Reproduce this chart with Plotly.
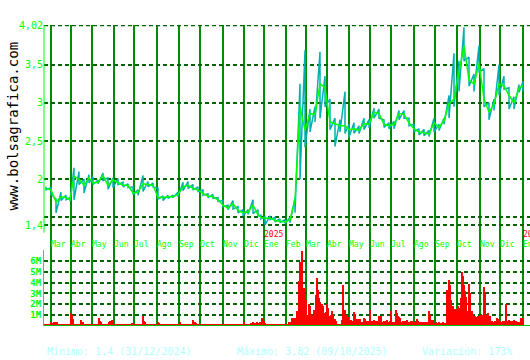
import pandas as pd
import plotly.graph_objects as go

# ---------------- data ----------------
HOLIDAYS = ["2024-03-29", "2024-04-01", "2024-05-01", "2024-12-25", "2024-12-26",
            "2025-01-01", "2025-05-01", "2026-01-01"]
FIRST_DAY = "2024-02-22"
LAST_DAY = "2026-01-02"
X_START = "2024-02-21"
X_END = "2026-01-13"

MONTH_NAMES = ["Ene", "Feb", "Mar", "Abr", "May", "Jun", "Jul", "Ago", "Sep", "Oct", "Nov", "Dic"]

# weekly close / high / low (one value per trading week)
week_close = [
    1.88, 1.86, 1.70, 1.77, 1.76, 1.73, 2.04, 2.00, 1.92, 2.02,
    1.95, 1.96, 2.05, 1.92, 1.99, 1.96, 1.92, 1.92, 1.82, 1.83,
    1.94, 1.93, 1.92, 1.76, 1.76, 1.77, 1.77, 1.80, 1.90, 1.92,
    1.88, 1.86, 1.81, 1.78, 1.77, 1.73, 1.66, 1.62, 1.68, 1.59,
    1.56, 1.57, 1.66, 1.53, 1.50, 1.49, 1.49, 1.46, 1.45, 1.44,
    1.47, 1.73, 2.95, 2.64, 2.86, 2.85, 3.25, 3.20, 2.75, 2.72,
    2.70, 2.70, 2.65, 2.66, 2.64, 2.73, 2.72, 2.88, 2.86, 2.72,
    2.70, 2.72, 2.86, 2.85, 2.74, 2.66, 2.62, 2.61, 2.59, 2.74,
    2.68, 2.77, 2.99, 3.05, 3.40, 3.75, 3.30, 3.25, 3.52, 3.05,
    2.88, 2.98, 3.25, 3.22, 3.10, 3.00, 3.19, 3.23,
]
week_high = [
    1.90, 1.89, 1.74, 1.83, 1.79, 1.76, 2.15, 2.10, 2.00, 2.06,
    2.03, 1.99, 2.08, 2.02, 2.02, 2.01, 1.96, 1.94, 1.90, 1.86,
    2.05, 1.97, 1.95, 1.88, 1.78, 1.79, 1.79, 1.83, 1.96, 1.97,
    1.93, 1.90, 1.86, 1.81, 1.80, 1.76, 1.72, 1.66, 1.72, 1.64,
    1.60, 1.60, 1.73, 1.60, 1.53, 1.51, 1.52, 1.50, 1.48, 1.47,
    1.50, 1.76, 3.25, 3.69, 2.92, 2.95, 3.67, 3.35, 3.05, 2.80,
    2.78, 3.15, 2.72, 2.74, 2.70, 2.80, 2.78, 2.93, 2.92, 2.78,
    2.74, 2.76, 2.90, 2.90, 2.80, 2.72, 2.66, 2.65, 2.64, 2.80,
    2.72, 2.80, 3.10, 3.65, 3.55, 3.99, 3.60, 3.38, 3.75, 3.45,
    3.00, 3.05, 3.50, 3.35, 3.20, 3.08, 3.24, 3.28,
]
week_low = [
    1.86, 1.80, 1.56, 1.72, 1.73, 1.71, 1.73, 1.93, 1.82, 1.95,
    1.93, 1.94, 1.98, 1.87, 1.89, 1.93, 1.90, 1.89, 1.80, 1.79,
    1.84, 1.90, 1.90, 1.74, 1.72, 1.75, 1.76, 1.77, 1.85, 1.88,
    1.86, 1.84, 1.79, 1.76, 1.75, 1.71, 1.64, 1.60, 1.61, 1.56,
    1.52, 1.54, 1.55, 1.52, 1.48, 1.40, 1.47, 1.44, 1.43, 1.42,
    1.43, 1.56, 2.00, 2.42, 2.62, 2.75, 2.80, 2.95, 2.65, 2.43,
    2.62, 2.60, 2.55, 2.60, 2.60, 2.65, 2.67, 2.80, 2.80, 2.68,
    2.66, 2.66, 2.78, 2.80, 2.70, 2.62, 2.58, 2.57, 2.56, 2.62,
    2.64, 2.72, 2.80, 2.95, 3.15, 3.55, 3.22, 3.15, 3.40, 2.95,
    2.78, 2.90, 3.10, 3.18, 2.92, 2.92, 3.14, 3.15,
]
# daily volume, millions of shares (one value per trading day)
daily_volume_m = (
    [0.15, 0.12, 0.15, 0.18, 0.15, 0.12, 0.37, 0.30, 0.15, 0.37, 0.37, 0.25, 0.37, 0.20,
     0.20, 0.20, 0.15]
    + [0.15, 0.12, 0.15, 0.18, 0.15, 0.12, 0.15, 0.18, 0.15, 1.22, 1.00, 0.60,
       0.18, 0.15, 0.18, 0.12, 0.18, 0.15, 0.18, 0.52, 0.40, 0.37]
    + [0.15, 0.12, 0.15, 0.18, 0.15, 0.12, 0.15, 0.15, 0.18, 0.12, 0.15, 0.15, 0.18, 0.12, 0.15,
       0.73, 0.50, 0.37, 0.18, 0.15, 0.18, 0.12, 0.18, 0.15, 0.18,
       0.37, 0.45, 0.30, 0.55, 0.40]
    + [0.15, 0.12, 0.15, 0.18, 0.15, 0.12, 0.15, 0.15, 0.18, 0.12, 0.15, 0.15, 0.18, 0.12,
       0.15, 0.12, 0.15, 0.18, 0.30, 0.25,
       0.15, 0.12, 0.15, 0.18, 0.15, 0.12, 0.15, 0.18, 0.15, 0.92, 0.50, 0.37,
       0.15, 0.12, 0.15, 0.18, 0.15, 0.12, 0.15, 0.15, 0.18, 0.12, 0.15, 0.15, 0.37, 0.30]
    + [0.15, 0.12, 0.15, 0.18, 0.15, 0.12, 0.15, 0.15, 0.18, 0.12, 0.15, 0.15, 0.18, 0.12,
       0.15, 0.12, 0.15, 0.18, 0.15, 0.12, 0.37,
       0.18, 0.15, 0.18, 0.12, 0.18, 0.15, 0.18, 0.18, 0.15, 0.18, 0.12, 0.18,
       0.55, 0.37, 0.40, 0.30]
    + [0.15, 0.12, 0.15, 0.18, 0.15, 0.12, 0.15, 0.15, 0.18, 0.12,
       0.15, 0.15, 0.18, 0.12, 0.15, 0.12, 0.15, 0.18, 0.15, 0.12,
       0.15, 0.18, 0.15, 0.12, 0.15, 0.15, 0.18, 0.12, 0.15, 0.15,
       0.18, 0.12, 0.15, 0.12, 0.15, 0.18, 0.15, 0.12, 0.15, 0.18,
       0.15, 0.12, 0.15, 0.15, 0.18, 0.12, 0.15, 0.37,
       0.15, 0.12, 0.15, 0.18, 0.15, 0.12,
       0.30, 0.25, 0.37, 0.20, 0.30, 0.25, 0.37, 0.30, 0.20, 0.37, 0.30,
       0.73, 0.60, 0.46, 0.30]
    + [0.15, 0.12, 0.15, 0.18, 0.15, 0.12, 0.15, 0.15, 0.18, 0.12, 0.15, 0.15, 0.18, 0.12,
       0.15, 0.12, 0.15, 0.18, 0.18, 0.15, 0.18, 0.20, 0.18, 0.37, 0.30, 0.37,
       0.73, 0.60, 0.70, 0.60, 0.70, 1.35, 1.20]
    + [4.10, 5.90, 5.90, 6.95, 3.50, 3.50, 1.80, 2.40, 0.90, 1.00, 2.00, 1.80,
       0.80, 1.00, 0.90, 1.50, 1.30, 2.90, 4.40, 3.30, 2.60, 2.20,
       1.50, 2.00, 1.80, 1.20, 1.10, 1.30, 2.00, 1.70, 0.90, 0.80, 1.00, 1.35, 1.10,
       0.50, 0.60, 0.45, 0.18, 0.20, 0.18, 0.15, 0.18, 0.58, 3.80, 1.50, 1.50]
    + [0.90, 1.00, 0.80, 0.50, 0.45, 0.55, 0.50, 0.45, 1.25, 0.90,
       0.60, 0.50, 0.65, 0.55, 0.60, 0.37, 0.35, 0.37, 0.73, 0.60,
       0.50, 0.40, 0.50, 0.45, 1.50, 0.45, 0.50, 0.40, 0.58, 0.45, 0.50, 0.40, 0.45,
       0.90, 0.80, 0.90, 0.40, 0.35, 0.50, 0.30, 0.45, 0.58, 0.40, 0.35, 0.45,
       1.35, 0.37, 0.30, 0.37, 0.35, 1.50, 1.20, 0.90, 0.80, 0.70]
    + [0.40, 0.35, 0.50, 0.30, 0.45, 0.40, 0.58, 0.35, 0.40, 0.30, 0.45, 0.50, 0.35, 0.40,
       0.30, 0.45, 0.67, 0.50, 0.35, 0.30, 0.40, 0.35, 0.30, 0.40, 0.35, 0.30, 0.40, 0.35,
       1.35, 1.00, 0.58, 0.50, 0.58,
       0.30, 0.25, 0.35, 0.20, 0.30, 0.37, 0.25, 0.30, 0.20, 0.35, 0.30, 0.25, 0.30]
    + [3.30, 3.00, 4.25, 3.80, 2.40, 1.60, 1.80, 1.50, 1.60, 1.20, 1.60, 1.80, 1.50, 1.70,
       2.60, 5.00, 4.60, 3.80, 3.20, 2.70, 1.35, 1.20, 3.90, 3.00, 1.20, 1.40, 1.10,
       0.80, 0.90, 0.70, 0.80, 0.90, 0.75, 0.80, 1.00, 0.90, 1.00, 3.60, 3.00, 0.12,
       1.00, 1.20, 0.80, 0.90]
    + [0.40, 0.45, 0.35, 0.40, 0.50, 0.40, 0.73, 0.60,
       0.40, 0.45, 0.35, 0.40, 0.50, 0.40, 0.45, 2.00,
       0.50, 0.45, 0.55, 0.50, 0.40, 0.50, 0.45, 0.55, 0.50, 0.45,
       0.37, 0.35, 0.37, 0.30, 0.73, 0.60, 0.73]
)

price_ticks = [1.4, 1.5, 2, 2.5, 3, 3.5, 4.02]
price_tick_text = ["1,4", "", "2", "2,5", "3", "3,5", "4,02"]
PRICE_TOP = 4.02
PRICE_LABEL_BOTTOM = 1.4
vol_ticks_m = [1, 2, 3, 4, 5, 6]
vol_tick_text = ["1M", "2M", "3M", "4M", "5M", "6M"]
VOL_TOP_M = 7.0

MIN_TEXT = "Mínimo: 1,4 (31/12/2024)"
MAX_TEXT = "Máximo: 3,82 (09/10/2025)"
VAR_TEXT = "Variación: 173%"

# ---------------- derived ----------------
DAY_MS = 86400000
trading_days = pd.bdate_range(FIRST_DAY, LAST_DAY, freq="C", holidays=HOLIDAYS)
wk = trading_days.to_series().groupby(trading_days.to_period("W-FRI")).max()
week_dates = [d.strftime("%Y-%m-%d") for d in wk]
assert len(week_dates) == len(week_close) == len(week_high) == len(week_low)
day_dates = [d.strftime("%Y-%m-%d") for d in trading_days[:len(daily_volume_m)]]

axis_days = pd.bdate_range(X_START, X_END, freq="C", holidays=HOLIDAYS)
mf = axis_days.to_series().groupby(axis_days.to_period("M")).min()
month_starts = [d for d in mf if d.day <= 7]
tick_vals = [d.strftime("%Y-%m-%d") for d in month_starts]
tick_text = []
for d in month_starts:
    name = MONTH_NAMES[d.month - 1]
    if d.month == 1:
        tick_text.append("<span style='color:#ff0000'>%d</span><br>%s" % (d.year, name))
    else:
        tick_text.append(name)

zig_x, zig_y = [], []
for d, h, l in zip(week_dates, week_high, week_low):
    zig_x += [d, d]
    zig_y += [h, l]

# ---------------- figure ----------------
MONO = "DejaVu Sans Mono"
W, H = 530, 360
ML, MT, MB = 44, 25, 34
plot_h = H - MT - MB            # 301
vol_h = 76
vol_frac = vol_h / plot_h
price_px = (plot_h - vol_h)     # 225 px price panel (incl. label strip)
label_px = 200                  # px between top value and 1,4
price_bottom = PRICE_TOP - (PRICE_TOP - PRICE_LABEL_BOTTOM) * price_px / label_px

fig = go.Figure()
fig.add_trace(go.Bar(x=day_dates, y=daily_volume_m, xaxis="x2", yaxis="y2",
                     width=1.4 * DAY_MS, offset=-0.2 * DAY_MS,
                     marker=dict(color="#ff0000", line=dict(width=0)), showlegend=False))
fig.add_trace(go.Scatter(x=zig_x, y=zig_y, mode="lines",
                         line=dict(color="#00b0b0", width=1.5), showlegend=False))
fig.add_trace(go.Scatter(x=week_dates, y=week_close, mode="lines",
                         line=dict(color="#00ff00", width=1.5), showlegend=False))

rb = [dict(bounds=["sat", "mon"]), dict(values=HOLIDAYS)]
common_x = dict(type="date", range=[X_START, X_END], rangebreaks=rb, tickvals=tick_vals,
                showgrid=True, gridcolor="#008c00", gridwidth=1.5, zeroline=False,
                ticks="", automargin=False, fixedrange=True, tickangle=0)

fig.update_layout(
    width=W, height=H,
    margin=dict(l=ML, r=0, t=MT, b=MB, pad=0),
    paper_bgcolor="white", plot_bgcolor="white",
    bargap=0,
    xaxis=dict(common_x, domain=[0, 1], anchor="y", showticklabels=False),
    yaxis=dict(domain=[vol_frac, 1], range=[price_bottom, PRICE_TOP + 0.001],
               tickvals=price_ticks, ticktext=price_tick_text,
               showgrid=True, gridcolor="#006400", gridwidth=1.5, griddash="4px,3px",
               zeroline=False, showline=False, ticks="", automargin=False,
               tickfont=dict(family=MONO, size=10, color="#00ff00")),
    xaxis2=dict(common_x, domain=[0, 1], anchor="y2", side="top",
                ticktext=tick_text, ticklabelposition="outside right",
                ticklabeloverflow="allow",
                tickfont=dict(family=MONO, size=8, color="#00ff00"), showline=False),
    yaxis2=dict(domain=[0, vol_frac], range=[0, VOL_TOP_M],
                tickvals=vol_ticks_m, ticktext=vol_tick_text,
                showgrid=True, gridcolor="#006400", gridwidth=1.5, griddash="4px,3px",
                zeroline=False, showline=True, linecolor="#00ff00", linewidth=1,
                ticks="", automargin=False,
                tickfont=dict(family=MONO, size=9, color="#00ff00", weight="bold")),
)

# top dashed reference line, price axis line, volume base line
fig.add_shape(type="line", xref="paper", yref="y", x0=0, x1=1, y0=PRICE_TOP, y1=PRICE_TOP,
              line=dict(color="#006400", width=2.5, dash="4px,3px"))
fig.add_shape(type="line", xref="paper", yref="y", x0=0, x1=0, y0=PRICE_LABEL_BOTTOM - 0.1,
              y1=PRICE_TOP, line=dict(color="#00ff00", width=1))
fig.add_shape(type="line", xref="paper", yref="y2", x0=0, x1=1, y0=0, y1=0,
              line=dict(color="#00c000", width=2))

fig.add_annotation(text="www.bolsagrafica.com", xref="paper", yref="paper",
                   x=(12.5 - ML) / (W - ML), y=(H - MB - 126) / plot_h, textangle=-90,
                   xanchor="center", yanchor="middle",
                   showarrow=False, font=dict(family=MONO, size=14, color="black"))
for txt, px in [(MIN_TEXT, 45), (MAX_TEXT, 235), (VAR_TEXT, 420)]:
    fig.add_annotation(text=txt, xref="paper", yref="paper", x=(px - ML) / (W - ML),
                       y=-(352 - (H - MB)) / plot_h, xanchor="left", yanchor="middle",
                       showarrow=False, font=dict(family=MONO, size=10, color="#b0ffff"))

fig.write_html("out.html")
